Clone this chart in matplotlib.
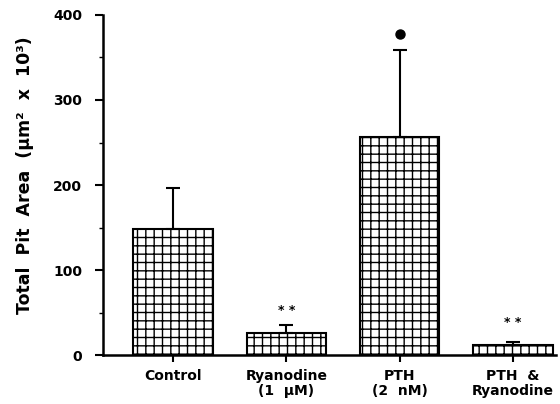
import matplotlib.pyplot as plt
from matplotlib.ticker import MultipleLocator

plt.rcParams['font.family'] = ['DejaVu Sans']
plt.rcParams['font.weight'] = 'bold'
plt.rcParams['hatch.linewidth'] = 1.0

groups = ["Control", "Ryanodine\n(1  \u03bcM)", "PTH\n(2  nM)", "PTH  &\nRyanodine"]
means = [148, 26, 256, 12]
errors = [48, 10, 103, 3]
stars = ["", "* *", "", "* *"]
star_y = [0, 53, 0, 38]
dot_x = [2]
dot_y = [378]

fig = plt.figure(figsize=(5.6, 4.04), dpi=100)
ax = fig.add_axes([0.184, 0.121, 0.809, 0.842])

x = list(range(len(groups)))
ax.bar(x, means, width=0.7, color='white', edgecolor='black', linewidth=1.5,
       hatch='++', zorder=2)
ax.errorbar(x, means, yerr=[[0] * len(errors), errors], fmt='none',
            ecolor='black', elinewidth=1.5, capsize=5, capthick=1.5, zorder=3)

for xi, s, sy in zip(x, stars, star_y):
    if s:
        ax.text(xi, sy, s, ha='center', va='center', fontsize=9, fontweight='bold')
ax.plot(dot_x, dot_y, 'o', color='black', markersize=6.5)

ax.set_xlim(-0.617, 3.38)
ax.set_ylim(0, 400)
ax.set_xticks(x)
ax.set_xticklabels(groups, fontsize=10, fontweight='bold', linespacing=1.1)
ax.yaxis.set_major_locator(MultipleLocator(100))
ax.yaxis.set_minor_locator(MultipleLocator(50))
ax.tick_params(axis='y', labelsize=10, width=1.5, length=6, pad=9)
ax.tick_params(axis='y', which='minor', width=1.0, length=3)
ax.tick_params(axis='x', width=1.5, length=5, pad=5)
ax.set_ylabel("Total  Pit  Area  (\u03bcm\u00b2  x  10\u00b3)", fontsize=12.5,
              fontweight='bold')
ax.yaxis.set_label_coords(-0.152, 0.53)

for side in ['top', 'right']:
    ax.spines[side].set_visible(False)
for side in ['left', 'bottom']:
    ax.spines[side].set_linewidth(1.8)

fig.savefig("out.png", dpi=100)
